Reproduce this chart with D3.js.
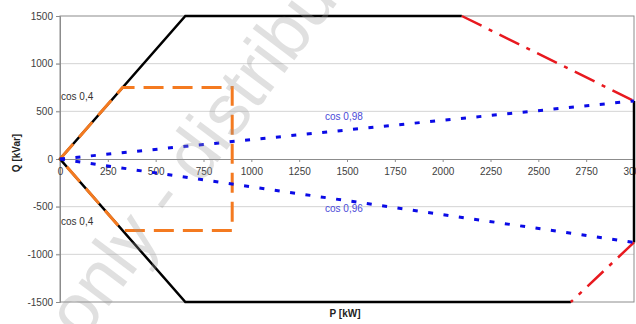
<!DOCTYPE html>
<html>
<head>
<meta charset="utf-8">
<script src="https://cdn.jsdelivr.net/npm/d3@7"></script>
<style>
  body { margin: 0; background: #fff; }
  text { font-family: "Liberation Sans", Arial, sans-serif; }
</style>
</head>
<body>
<div id="chart"></div>
<script>
// ticks
var xTicks = [0, 250, 500, 750, 1000, 1250, 1500, 1750, 2000, 2250, 2500, 2750, 3000]
var yTicks = [-1500, -1000, -500, 0, 500, 1000, 1500]

// black limit (cos 0,4 and max Q)
var limitP = [2670, 655, 0, 655, 2100]
var limitQ = [-1500, -1500, 0, 1500, 1500]
// black vertical at P max
var edgeP = [3000, 3000]
var edgeQ = [609, -875]
// red dash-dot
var redTopP = [2100, 3000]
var redTopQ = [1500, 609]
var redBotP = [3000, 2670]
var redBotQ = [-875, -1500]
// orange dashed box
var boxP = [0, 327, 900, 900, 327, 0]
var boxQ = [0, 750, 750, -750, -750, 0]
// blue dotted cos lines
var cos98P = [0, 3000]
var cos98Q = [0, 609]
var cos96P = [0, 3000]
var cos96Q = [0, -875]

var width = 636, height = 324
var margin = {left: 60, right: 2, top: 16, bottom: 22}

var svg = d3.select('#chart').append('svg')
    .attr('width', width).attr('height', height)

var x = d3.scaleLinear().domain([0, 3000]).range([margin.left, width - margin.right])
var y = d3.scaleLinear().domain([-1500, 1500]).range([height - margin.bottom, margin.top])

// gridlines
svg.append('g').selectAll('line')
    .data(yTicks.filter(function (d) { return d != 0 && Math.abs(d) != 1500 }))
    .enter().append('line')
    .attr('x1', x(0) - 4).attr('x2', x(3000))
    .attr('y1', function (d) { return y(d) }).attr('y2', function (d) { return y(d) })
    .attr('stroke', '#d4d4d4').attr('stroke-width', 1)

// plot border
svg.append('rect')
    .attr('x', x(0)).attr('y', y(1500))
    .attr('width', x(3000) - x(0)).attr('height', y(-1500) - y(1500))
    .attr('fill', 'none').attr('stroke', '#8c8c8c').attr('stroke-width', 1)

var fmt = function (d) { return String(d) }  // plain hyphen, no thousands separator

// y axis
var yAxis = d3.axisLeft(y).tickValues(yTicks).tickFormat(fmt).tickSize(4).tickPadding(3)
var gy = svg.append('g').attr('transform', 'translate(' + x(0) + ',0)').call(yAxis)
gy.select('.domain').attr('stroke', '#8c8c8c')
gy.selectAll('.tick line').attr('stroke', '#8c8c8c')
gy.selectAll('text').attr('font-size', 10).attr('fill', '#404040')
    .style('font-family', '"Liberation Sans", Arial, sans-serif')

// x axis on zero line
var xAxis = d3.axisBottom(x).tickValues(xTicks).tickFormat(fmt).tickSize(3).tickPadding(6).tickSizeOuter(0)
var gx = svg.append('g').attr('transform', 'translate(0,' + y(0) + ')').call(xAxis)
gx.select('.domain').attr('stroke', '#8c8c8c')
gx.selectAll('.tick line').attr('stroke', '#8c8c8c')
gx.selectAll('text').attr('font-size', 10).attr('fill', '#404040')
    .style('font-family', '"Liberation Sans", Arial, sans-serif')

function linePath(ps, qs) {
    return d3.line()(ps.map(function (p, i) { return [x(p), y(qs[i])] }))
}

// black
svg.append('path').attr('d', linePath(limitP, limitQ))
    .attr('fill', 'none').attr('stroke', '#000').attr('stroke-width', 2.5)
svg.append('path').attr('d', linePath(edgeP, edgeQ))
    .attr('fill', 'none').attr('stroke', '#000').attr('stroke-width', 2.5)

// red
;[[redTopP, redTopQ], [redBotP, redBotQ]].forEach(function (s) {
    svg.append('path').attr('d', linePath(s[0], s[1]))
        .attr('fill', 'none').attr('stroke', '#e8191f').attr('stroke-width', 2.5)
        .attr('stroke-dasharray', '22,8,4,8')
})

// orange
svg.append('path').attr('d', linePath(boxP, boxQ))
    .attr('fill', 'none').attr('stroke', '#f47a20').attr('stroke-width', 3)
    .attr('stroke-dasharray', '20,9')

// blue
;[[cos98P, cos98Q], [cos96P, cos96Q]].forEach(function (s) {
    svg.append('path').attr('d', linePath(s[0], s[1]))
        .attr('fill', 'none').attr('stroke', '#0a0ae6').attr('stroke-width', 3)
        .attr('stroke-dasharray', '5,10.5')
})

// labels
svg.append('text').attr('x', 61).attr('y', 100).attr('font-size', 10).attr('fill', '#333').text('cos 0,4')
svg.append('text').attr('x', 61).attr('y', 225).attr('font-size', 10).attr('fill', '#333').text('cos 0,4')
svg.append('text').attr('x', 325).attr('y', 120).attr('font-size', 10).attr('fill', '#4a4ad8').text('cos 0,98')
svg.append('text').attr('x', 325).attr('y', 212).attr('font-size', 10).attr('fill', '#4a4ad8').text('cos 0,96')

// axis titles
svg.append('text').attr('transform', 'translate(20,153) rotate(-90)')
    .attr('text-anchor', 'middle').attr('font-size', 10).attr('font-weight', 'bold').attr('fill', '#222')
    .text('Q [kVar]')
svg.append('text').attr('x', 345).attr('y', 317)
    .attr('text-anchor', 'middle').attr('font-size', 10).attr('font-weight', 'bold').attr('fill', '#222')
    .text('P [kW]')

// watermark
svg.append('text').attr('transform', 'translate(82,342) rotate(-53)')
    .attr('font-size', 72).attr('fill', '#9a9a9a').attr('opacity', 0.3)
    .text('only - distribution')
</script>
</body>
</html>
